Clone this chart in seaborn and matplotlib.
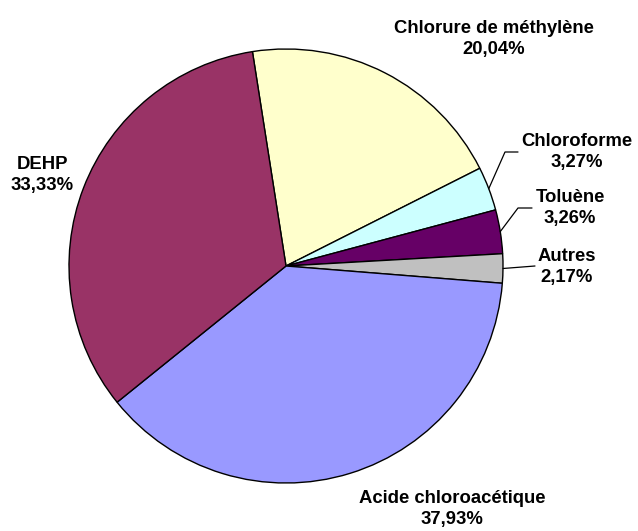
import numpy as np
import matplotlib
matplotlib.use("Agg")
import matplotlib.pyplot as plt
import seaborn as sns

# data (clockwise from the top)
labels = ["Chlorure de méthylène", "Chloroforme", "Toluène", "Autres",
          "Acide chloroacétique", "DEHP"]
values = [20.04, 3.27, 3.26, 2.17, 37.93, 33.33]
colors = ["#FFFFCC", "#CCFFFF", "#660066", "#C0C0C0", "#9999FF", "#993366"]

# label placement in pixels (x, y from the top), and leader-line elbows
label_pos = [(494, 39), (577, 152), (570, 208), (567, 267), (452, 509), (42, 175)]
leaders = {1: [(505, 152), (518, 152)],
           2: [(518, 208), (532, 208)],
           3: [(535, 266)]}

W, H = 638, 531
sns.set_theme(style="white")
plt.rcParams["font.family"] = ["Liberation Sans", "DejaVu Sans"]

fig = plt.figure(figsize=(W / 100, H / 100), dpi=100)
ax = fig.add_axes([0, 0, 1, 1])

cx, cy, r = 286, H - 266, 217
wedges, _ = ax.pie(values, colors=colors, startangle=98.9, counterclock=False,
                   center=(cx, cy), radius=r,
                   wedgeprops=dict(edgecolor="black", linewidth=1.0))
ax.set_xlim(0, W)
ax.set_ylim(0, H)
ax.set_aspect("equal")
ax.axis("off")

for i, (lab, val) in enumerate(zip(labels, values)):
    txt = f"{lab}\n{val:.2f}".replace(".", ",") + "%"
    x, y = label_pos[i]
    ax.text(x, H - y, txt, ha="center", va="center", fontsize=13.3,
            fontweight="bold", color="black", linespacing=1.32)
    if i in leaders:
        w = wedges[i]
        th = np.deg2rad((w.theta1 + w.theta2) / 2)
        xs = [cx + r * np.cos(th)] + [p[0] for p in leaders[i]]
        ys = [cy + r * np.sin(th)] + [H - p[1] for p in leaders[i]]
        ax.plot(xs, ys, color="black", linewidth=0.9)

fig.savefig("out.png", dpi=100)
plt.close(fig)
